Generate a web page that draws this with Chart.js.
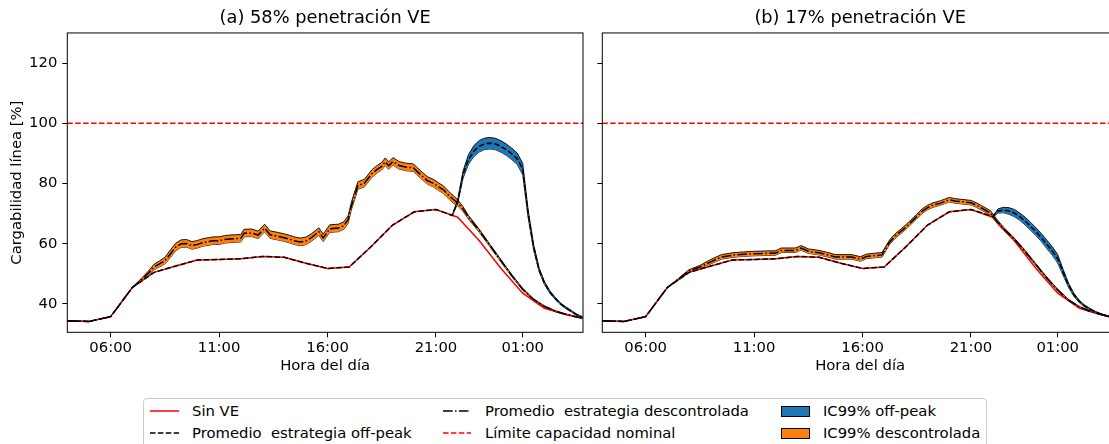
<!DOCTYPE html>
<html>
<head>
<meta charset="utf-8">
<script src="https://cdn.jsdelivr.net/npm/chart.js@4.4.1/dist/chart.umd.min.js"></script>
<style>
html,body{margin:0;padding:0;background:#fff;overflow:hidden;width:1109px;height:444px;}
#wrap{position:relative;width:1109px;height:444px;overflow:hidden;}
#wrap canvas{position:absolute;top:0;}
#legend{position:absolute;left:143px;top:398px;width:844px;height:60px;border:1px solid #cccccc;border-radius:4px;box-sizing:border-box;font-family:"DejaVu Sans";font-size:14.8px;color:#000;background:#fff;}
#legend svg{position:absolute;left:0;top:0;}
.lt{position:absolute;white-space:pre;line-height:16px;}
</style>
</head>
<body>
<div id="wrap">
<canvas id="ca" width="600" height="390" style="left:0px"></canvas>
<canvas id="cb" width="600" height="390" style="left:535px"></canvas>
<div id="legend">
<svg width="844" height="60">
<line x1="6" y1="12" x2="35" y2="12" stroke="red" stroke-width="1.5"/>
<line x1="6" y1="34" x2="35" y2="34" stroke="#000" stroke-width="1.5" stroke-dasharray="5.5 2.4"/>
<line x1="299" y1="12" x2="327" y2="12" stroke="#000" stroke-width="1.5" stroke-dasharray="9.6 2.4 1.5 2.4"/>
<line x1="299" y1="34" x2="327" y2="34" stroke="red" stroke-width="1.5" stroke-dasharray="5.5 2.4"/>
<rect x="637.5" y="7.5" width="28" height="10" fill="#1f77b4" stroke="#000" stroke-width="1"/>
<rect x="637.5" y="29.5" width="28" height="10" fill="#ff7f0e" stroke="#000" stroke-width="1"/>
</svg>
<span class="lt" style="left:48px;top:4px">Sin VE</span>
<span class="lt" style="left:48px;top:26px">Promedio  estrategia off-peak</span>
<span class="lt" style="left:341px;top:4px">Promedio  estrategia descontrolada</span>
<span class="lt" style="left:341px;top:26px">Límite capacidad nominal</span>
<span class="lt" style="left:679px;top:4px">IC99% off-peak</span>
<span class="lt" style="left:679px;top:26px">IC99% descontrolada</span>
</div>
</div>
<script>
// ---- shared data ----
const tickHours = [6, 11, 16, 21, 25];
const tickLabels = ['06:00', '11:00', '16:00', '21:00', '01:00'];
const yTicks = [40, 60, 80, 100, 120];
const limitHours = [4, 27.78];
const limitValues = [100, 100];

const sinVEHours = [4,5,6,7,8,9,10,11,12,13,14,15,16,17,18,19,20,21,22,23,24,25,26,27,27.75];
const sinVE = [34.4,34.2,35.8,45.5,50.5,52.6,54.6,54.8,55.0,55.8,55.5,53.5,51.8,52.3,59.0,66.2,70.6,71.4,68.8,61.0,51.8,43.6,38.6,36.6,35.2];

// ---- (a) 58% ----
const offPeakAHours = [4,5,6,7,8,9,10,11,12,13,14,15,16,17,18,19,20,21,21.75,22,22.25,22.5,22.75,23,23.25,23.5,23.75,24,24.25,24.5,24.75,25,25.25,25.5,25.75,26,26.25,26.5,26.75,27,27.25,27.5,27.75];
const offPeakA = [34.4,34.2,35.8,45.5,50.5,52.6,54.6,54.8,55.0,55.8,55.5,53.5,51.8,52.3,59.0,66.2,70.6,71.4,69.4,74.0,83.0,88.0,90.8,92.4,93.2,93.4,93.1,92.3,91.2,89.8,88.2,84.8,70.0,59.0,51.5,47.0,44.0,41.8,40.0,38.7,37.5,36.4,35.6];
const icOffPeakAHours = [21.75,22,22.25,22.5,22.75,23,23.25,23.5,23.75,24,24.25,24.5,24.75,25,25.25,25.5,25.75,26,26.25,26.5,26.75,27,27.25,27.5,27.75];
const icOffPeakAUpper = [69.5,74.6,84.2,89.6,92.6,94.3,95.1,95.3,95.0,94.2,93.1,91.7,90.1,86.7,71.3,59.9,52.1,47.5,44.4,42.2,40.3,39.0,37.8,36.6,35.8];
const icOffPeakALower = [69.3,73.4,81.8,86.4,89.0,90.5,91.3,91.5,91.2,90.4,89.3,87.9,86.3,82.9,68.7,58.1,50.9,46.5,43.6,41.5,39.7,38.4,37.3,36.2,35.4];

const descAHours = [4,5,6,7,7.25,7.5,7.75,8,8.25,8.5,8.75,9,9.25,9.5,9.75,10,10.25,10.5,10.75,11,11.25,11.5,11.75,12,12.15,12.5,12.8,13.1,13.35,13.75,14,14.25,14.5,14.75,15,15.25,15.6,15.8,16.1,16.5,16.75,16.95,17.1,17.4,17.7,18.05,18.3,18.5,18.66,18.82,19.02,19.3,19.6,19.97,20.1,20.3,20.6,20.9,21.1,21.35,21.6,21.8,22,22.25,22.5,23,23.5,24,24.5,25,25.5,26,26.5,27,27.5,27.75];
const descA = [34.4,34.2,35.8,45.5,47.0,48.6,50.3,52.3,53.3,54.4,56.6,58.9,60.0,60.1,59.4,59.8,60.4,60.7,61.0,61.0,61.4,61.6,61.7,61.8,63.5,63.6,62.9,65.2,63.0,62.4,62.0,61.5,60.9,60.6,60.9,62.0,64.0,61.9,65.0,65.2,66.0,68.0,72.5,79.3,80.1,83.3,84.8,85.7,87.2,85.9,87.3,86.0,85.5,85.2,84.2,82.9,81.0,80.0,79.0,77.9,76.0,74.7,73.6,71.5,68.8,64.3,59.3,54.3,49.4,44.9,41.5,39.2,37.6,36.5,35.7,35.4];
const icDescAUpper = [34.4,34.2,35.8,45.5,47.3,49.1,51.0,53.2,54.3,55.5,57.9,60.2,61.3,61.4,60.7,61.1,61.7,62.0,62.3,62.3,62.7,62.9,63.0,63.1,64.8,64.9,64.2,66.5,64.3,63.7,63.3,62.8,62.2,61.9,62.2,63.3,65.3,63.2,66.3,66.5,67.3,69.3,73.8,80.6,81.4,84.6,86.1,87.0,88.5,87.2,88.6,87.3,86.8,86.5,85.5,84.2,82.3,81.3,80.3,79.2,77.3,76.0,74.6,72.3,69.4,64.8,59.7,54.7,49.7,45.2,41.7,39.4,37.8,36.6,35.8,35.5];
const icDescALower = [34.4,34.2,35.8,45.5,46.7,48.1,49.6,51.4,52.3,53.3,55.4,57.7,58.8,58.9,58.2,58.6,59.2,59.5,59.8,59.8,60.2,60.4,60.5,60.6,62.3,62.4,61.7,64.0,61.8,61.2,60.8,60.3,59.7,59.4,59.7,60.8,62.8,60.7,63.8,64.0,64.8,66.8,71.3,78.1,78.9,82.1,83.6,84.5,86.0,84.7,86.1,84.8,84.3,84.0,83.0,81.7,79.8,78.8,77.8,76.7,74.8,73.5,72.6,70.7,68.2,63.8,58.9,53.9,49.1,44.6,41.3,39.0,37.4,36.4,35.6,35.3];

// ---- (b) 17% ----
const offPeakBHours = [4,5,6,7,8,9,10,11,12,13,14,15,16,17,18,19,20,21,22,22.25,22.5,22.75,23,23.25,23.5,23.75,24,24.25,24.5,24.75,25,25.25,25.5,25.75,26,26.25,26.5,26.75,27,27.25,27.5,27.75];
const offPeakB = [34.4,34.2,35.8,45.5,50.5,52.6,54.6,54.8,55.0,55.8,55.5,53.5,51.8,52.3,59.0,66.2,70.6,71.4,69.0,70.9,71.2,70.9,70.2,69.0,67.5,65.8,64.0,62.0,59.8,57.6,55.0,50.5,46.2,43.0,40.8,39.3,38.2,37.3,36.6,36.0,35.6,35.3];
const icOffPeakBHours = [22,22.25,22.5,22.75,23,23.25,23.5,23.75,24,24.25,24.5,24.75,25,25.25,25.5,25.75,26,26.25,26.5,26.75,27,27.25,27.5,27.75];
const icOffPeakBUpper = [69.1,71.6,72.1,72.0,71.4,70.2,68.8,67.1,65.3,63.3,61.2,59.0,56.4,51.5,46.9,43.5,41.2,39.6,38.5,37.5,36.8,36.2,35.7,35.4];
const icOffPeakBLower = [68.9,70.2,70.3,69.8,69.0,67.8,66.2,64.5,62.7,60.7,58.4,56.2,53.6,49.5,45.5,42.5,40.4,39.0,38.0,37.1,36.4,35.9,35.5,35.2];

const descBHours = [4,5,6,7,7.5,8,8.5,9,9.5,10,10.5,11,11.5,12,12.25,12.9,13.17,13.5,14,14.5,14.75,15.5,15.9,16.2,16.9,17.25,17.5,18,18.5,18.75,19,19.25,19.6,20,20.25,20.5,21,21.25,21.5,21.9,22.25,22.5,23,23.5,24,24.5,25,25.5,26,26.5,27,27.5,27.75];
const descB = [34.4,34.2,35.8,45.5,48.2,51.0,52.3,54.0,55.6,56.2,56.5,56.7,56.8,56.9,57.8,57.8,58.6,57.5,57.0,56.1,55.6,55.6,54.9,55.8,56.3,60.5,62.5,65.5,69.0,70.8,72.0,72.8,73.5,74.6,74.2,74.0,73.6,72.8,71.8,70.2,67.0,65.0,61.5,57.4,53.0,48.6,44.6,41.3,39.0,37.5,36.5,35.7,35.3];
const icDescBUpper = [34.4,34.2,35.8,45.5,48.4,51.4,52.8,54.8,56.4,57.0,57.3,57.5,57.6,57.7,58.6,58.6,59.4,58.3,57.8,56.9,56.4,56.4,55.7,56.6,57.1,61.3,63.3,66.3,69.8,71.6,72.8,73.6,74.3,75.4,75.0,74.8,74.4,73.6,72.6,71.0,67.6,65.5,61.9,57.8,53.3,48.9,44.9,41.5,39.2,37.7,36.6,35.8,35.4];
const icDescBLower = [34.4,34.2,35.8,45.5,48.0,50.6,51.8,53.3,54.9,55.5,55.8,56.0,56.1,56.2,57.1,57.1,57.9,56.8,56.3,55.4,54.9,54.9,54.2,55.1,55.6,59.8,61.8,64.8,68.3,70.1,71.3,72.1,72.8,73.9,73.5,73.3,72.9,72.1,71.1,69.5,66.4,64.5,61.1,57.1,52.7,48.3,44.3,41.1,38.8,37.4,36.4,35.6,35.2];

// ---- chart building ----
Chart.defaults.font.family = 'DejaVu Sans';
Chart.defaults.color = '#000';

function xy(hours, vals) { return hours.map((h, i) => ({ x: h, y: vals[i] })); }

const framePlugin = {
  id: 'frame',
  afterDatasetsDraw(chart) {
    const { ctx, chartArea: a } = chart;
    ctx.save();
    ctx.strokeStyle = '#000';
    ctx.lineWidth = 1;
    ctx.strokeRect(a.left, a.top, a.right - a.left, a.bottom - a.top);
    ctx.restore();
  }
};

function build(id, title, p, showYLabels) {
  const datasets = [
    { label: 'IC99% descontrolada (inf)', data: xy(p.descHours, p.descLower), borderColor: '#000', borderWidth: 0.9, fill: false, order: 7 },
    { label: 'IC99% descontrolada', data: xy(p.descHours, p.descUpper), borderColor: '#000', borderWidth: 0.9, backgroundColor: '#ff7f0e', fill: '-1', order: 6 },
    { label: 'IC99% off-peak (inf)', data: xy(p.icHours, p.icLower), borderColor: '#000', borderWidth: 0.9, fill: false, order: 5 },
    { label: 'IC99% off-peak', data: xy(p.icHours, p.icUpper), borderColor: '#000', borderWidth: 0.9, backgroundColor: '#1f77b4', fill: '-1', order: 4 },
    { label: 'Límite capacidad nominal', data: xy(limitHours, limitValues), borderColor: '#ff0000', borderWidth: 1.5, borderDash: [5.5, 2.4], fill: false, order: 3 },
    { label: 'Sin VE', data: xy(sinVEHours, sinVE), borderColor: '#ff0000', borderWidth: 1.5, fill: false, order: 2 },
    { label: 'Promedio  estrategia off-peak', data: xy(p.offHours, p.off), borderColor: '#000', borderWidth: 1.5, borderDash: [5.5, 2.4], fill: false, order: 1 },
    { label: 'Promedio  estrategia descontrolada', data: xy(p.descHours, p.desc), borderColor: '#000', borderWidth: 1.5, borderDash: [9.6, 2.4, 1.5, 2.4], fill: false, order: 0 }
  ];
  return new Chart(document.getElementById(id), {
    type: 'line',
    data: { datasets },
    plugins: [framePlugin],
    options: {
      responsive: false,
      animation: false,
      devicePixelRatio: 1,
      layout: { padding: { left: 0, right: 17, top: 0, bottom: 0 } },
      elements: { point: { radius: 0 }, line: { tension: 0 } },
      plugins: {
        legend: { display: false },
        tooltip: { enabled: false },
        title: { display: true, fullSize: false, text: title, color: '#000', font: { size: 17.8, weight: 'normal' }, padding: { top: 7.3, bottom: 4.3 } }
      },
      scales: {
        x: {
          type: 'linear',
          min: 4, max: 27.78,
          afterBuildTicks: s => { s.ticks = tickHours.map(v => ({ value: v })); },
          afterFit: s => { s.height = 57.7; },
          ticks: { callback: v => tickLabels[tickHours.indexOf(v)], font: { size: 14.8 }, color: '#000', padding: 2, maxRotation: 0, autoSkip: false },
          grid: { display: true, drawOnChartArea: false, drawTicks: true, tickLength: 5, tickColor: '#000', tickWidth: 1 },
          border: { display: false },
          title: { display: true, text: 'Hora del día', font: { size: 14.8 }, color: '#000', padding: { top: 0, bottom: 15 } }
        },
        y: {
          type: 'linear',
          min: 30.6, max: 130,
          afterBuildTicks: s => { s.ticks = yTicks.map(v => ({ value: v })); },
          afterFit: s => { s.width = 67.3; },
          ticks: { display: showYLabels, font: { size: 14.8 }, color: '#000', padding: 5 },
          grid: { display: true, drawOnChartArea: false, drawTicks: true, tickLength: 5, tickColor: '#000', tickWidth: 1 },
          border: { display: false },
          title: { display: showYLabels, text: 'Cargabilidad línea [%]', font: { size: 14.8 }, color: '#000', padding: { top: 8.6, bottom: 0 } }
        }
      }
    }
  });
}

build('ca', '(a) 58% penetración VE', {
  offHours: offPeakAHours, off: offPeakA,
  icHours: icOffPeakAHours, icUpper: icOffPeakAUpper, icLower: icOffPeakALower,
  descHours: descAHours, desc: descA, descUpper: icDescAUpper, descLower: icDescALower
}, true);

build('cb', '(b) 17% penetración VE', {
  offHours: offPeakBHours, off: offPeakB,
  icHours: icOffPeakBHours, icUpper: icOffPeakBUpper, icLower: icOffPeakBLower,
  descHours: descBHours, desc: descB, descUpper: icDescBUpper, descLower: icDescBLower
}, false);
</script>
</body>
</html>
